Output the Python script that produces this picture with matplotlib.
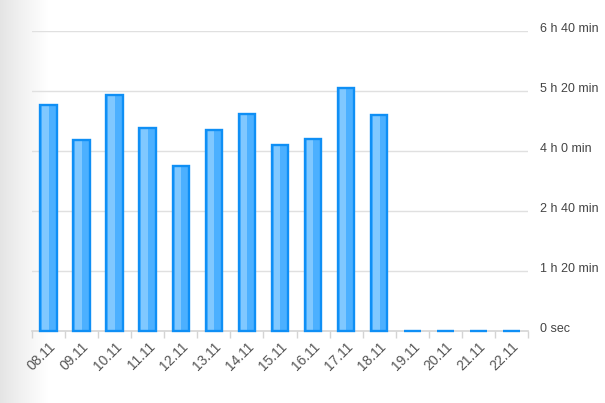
import numpy as np
import matplotlib
matplotlib.use("Agg")
import matplotlib.pyplot as plt
from matplotlib.colors import LinearSegmentedColormap

plt.rcParams['font.family'] = ['Liberation Sans', 'DejaVu Sans']

dates = ["08.11", "09.11", "10.11", "11.11", "12.11", "13.11", "14.11", "15.11",
         "16.11", "17.11", "18.11", "19.11", "20.11", "21.11", "22.11"]
minutes = [302, 255, 315, 271, 220, 268, 289, 248, 256, 324, 288, 0, 0, 0, 0]
ytick_vals = [0, 80, 160, 240, 320, 400]
ytick_labels = ["0 sec", "1 h 20 min", "2 h 40 min", "4 h 0 min", "5 h 20 min", "6 h 40 min"]

W, H = 605, 403
fig = plt.figure(figsize=(W / 100, H / 100), dpi=100)
fig.patch.set_facecolor("white")

# left gray gradient
gax = fig.add_axes([0, 0, 48 / W, 1], zorder=-10)
grad = np.linspace(0, 1, 256)[None, :] ** 0.9
cmap = LinearSegmentedColormap.from_list("g", ["#e4e4e4", "#ffffff"])
gax.imshow(grad, aspect="auto", cmap=cmap, extent=[0, 1, 0, 1])
gax.axis("off")

ax = fig.add_axes([32 / W, (H - 331) / H, (528 - 32) / W, 300 / H])
ax.set_facecolor("none")
x = np.arange(len(dates))
vals = np.array(minutes, dtype=float)

ax.bar(x, vals, width=0.5, color="#4cb0ff", linewidth=0, zorder=2)
ax.bar(x - 0.09, vals, width=0.2, color="#80c8ff", linewidth=0, zorder=3)
ax.bar(x, vals, width=0.5, facecolor="none", edgecolor="#0f8ff5", linewidth=1.7,
       zorder=4, clip_on=False)

ax.set_xlim(-0.5, len(dates) - 0.5)
ax.set_ylim(0, 400)

for v in ytick_vals[1:]:
    ax.axhline(v, color="#e0e0e0", linewidth=1, zorder=0)

for s in ["top", "left", "right"]:
    ax.spines[s].set_visible(False)
ax.spines["bottom"].set_color("#d4d4d4")
ax.spines["bottom"].set_linewidth(1.2)

ax.set_yticks([])
for v, lab in zip(ytick_vals, ytick_labels):
    ax.annotate(lab, xy=(1.0, v), xycoords=("axes fraction", "data"),
                xytext=(9.0, 1.2), textcoords="offset points",
                ha="left", va="center", fontsize=9, color="#444444",
                annotation_clip=False)

# ticks at category boundaries
ax.set_xticks(np.arange(len(dates) + 1) - 0.5)
ax.set_xticklabels([])
ax.tick_params(axis="x", which="major", length=5, color="#d4d4d4", width=1)
ax.set_xticks(x, minor=True)
ax.set_xticklabels(dates, minor=True, rotation=45, ha="right", va="top",
                   rotation_mode="anchor", fontsize=10, color="#555555")
ax.tick_params(axis="x", which="minor", length=0, pad=6)

fig.savefig("out.png", dpi=100)
